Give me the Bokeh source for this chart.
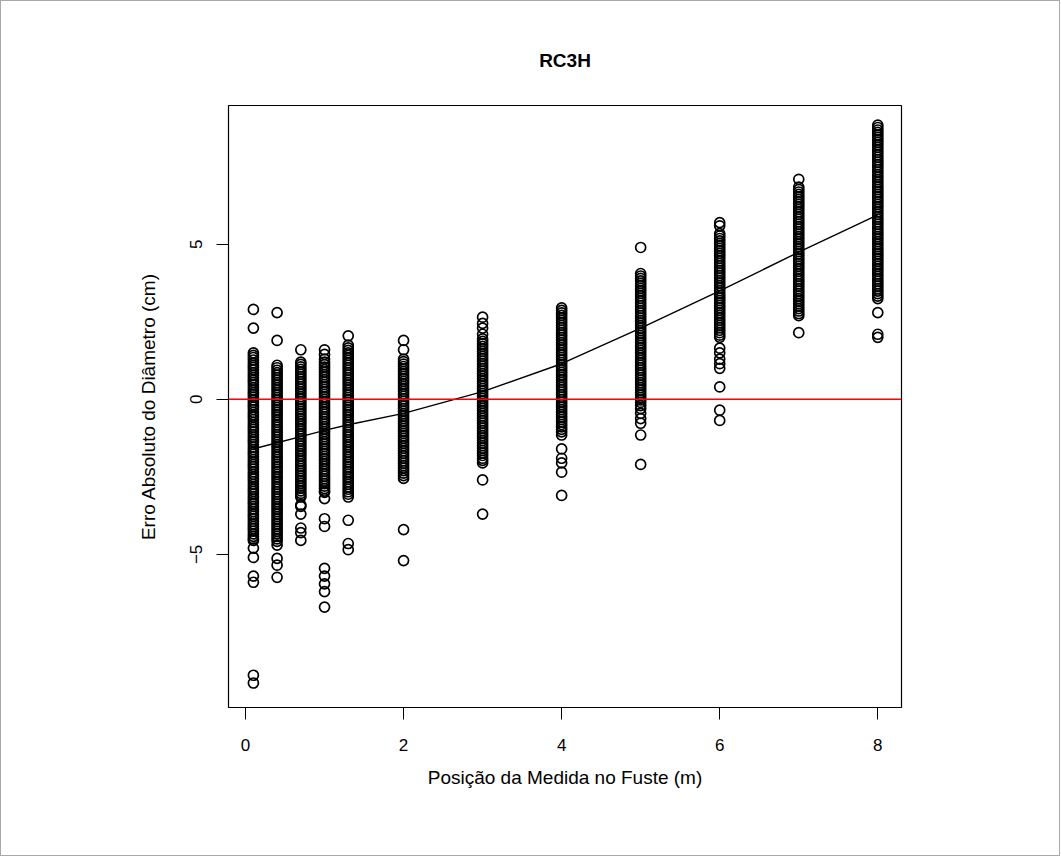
from bokeh.plotting import figure
from bokeh.models import Range1d, Span, FixedTicker, ColumnDataSource
from bokeh.embed import file_html
from bokeh.resources import INLINE

# Measurement heights along the stem (m)
posicoes = [0.1, 0.4, 0.7, 1.0, 1.3, 2.0, 3.0, 4.0, 5.0, 6.0, 7.0, 8.0]

# Absolute diameter error (cm) at each height
erro_01 = [2.9, 2.3, 1.5, 1.42, 1.35, 1.27, 1.18, 1.1, 1.03, 0.95, 0.86, 0.78, 0.7, 0.62,
           0.55, 0.47, 0.38, 0.3, 0.22, 0.15, 0.07, -0.02, -0.1, -0.18, -0.25, -0.33, -0.42,
           -0.5, -0.57, -0.65, -0.74, -0.82, -0.9, -0.97, -1.05, -1.14, -1.22, -1.3, -1.37,
           -1.45, -1.54, -1.62, -1.7, -1.77, -1.85, -1.94, -2.02, -2.1, -2.17, -2.25, -2.34,
           -2.42, -2.5, -2.57, -2.65, -2.74, -2.82, -2.9, -2.97, -3.05, -3.14, -3.22, -3.3,
           -3.37, -3.45, -3.54, -3.62, -3.7, -3.77, -3.85, -3.94, -4.02, -4.1, -4.17, -4.25,
           -4.34, -4.42, -4.5, -4.55, -4.8, -5.1, -5.7, -5.9, -8.9, -9.15]
erro_04 = [2.8, 1.9, 1.1, 1.02, 0.94, 0.86, 0.78, 0.7, 0.62, 0.54, 0.46, 0.38, 0.3, 0.22,
           0.14, 0.06, -0.02, -0.1, -0.18, -0.26, -0.34, -0.42, -0.5, -0.58, -0.66, -0.74,
           -0.82, -0.9, -0.98, -1.06, -1.14, -1.22, -1.3, -1.38, -1.46, -1.54, -1.62, -1.7,
           -1.78, -1.86, -1.94, -2.02, -2.1, -2.18, -2.26, -2.34, -2.42, -2.5, -2.58, -2.66,
           -2.74, -2.82, -2.9, -2.98, -3.06, -3.14, -3.22, -3.3, -3.38, -3.46, -3.54, -3.62,
           -3.7, -3.78, -3.86, -3.94, -4.02, -4.1, -4.18, -4.26, -4.34, -4.42, -4.5, -4.58,
           -4.7, -5.13, -5.35, -5.74]
erro_07 = [1.6, 1.2, 1.13, 1.05, 0.97, 0.89, 0.81, 0.73, 0.65, 0.57, 0.49, 0.41, 0.33, 0.25,
           0.17, 0.09, 0.01, -0.07, -0.15, -0.23, -0.31, -0.39, -0.47, -0.55, -0.63, -0.71,
           -0.79, -0.87, -0.95, -1.03, -1.11, -1.19, -1.27, -1.35, -1.43, -1.51, -1.59, -1.67,
           -1.75, -1.83, -1.91, -1.99, -2.07, -2.15, -2.23, -2.31, -2.39, -2.47, -2.55, -2.63,
           -2.71, -2.79, -2.87, -2.95, -3.03, -3.1, -3.15, -3.4, -3.45, -3.7, -4.15, -4.3,
           -4.55]
erro_10 = [1.6, 1.45, 1.3, 1.2, 1.12, 1.04, 0.96, 0.88, 0.8, 0.72, 0.64, 0.56, 0.48, 0.4,
           0.32, 0.24, 0.16, 0.08, 0.0, -0.08, -0.16, -0.24, -0.32, -0.4, -0.48, -0.56, -0.64,
           -0.72, -0.8, -0.88, -0.96, -1.04, -1.12, -1.2, -1.28, -1.36, -1.44, -1.52, -1.6,
           -1.68, -1.76, -1.84, -1.92, -2.0, -2.08, -2.16, -2.24, -2.32, -2.4, -2.48, -2.56,
           -2.64, -2.72, -2.8, -2.88, -2.96, -3.0, -3.2, -3.85, -4.1, -5.45, -5.7, -5.95,
           -6.2, -6.7]
erro_13 = [2.05, 1.75, 1.66, 1.58, 1.5, 1.42, 1.34, 1.26, 1.18, 1.1, 1.02, 0.94, 0.86, 0.78,
           0.7, 0.62, 0.54, 0.46, 0.38, 0.3, 0.22, 0.14, 0.06, -0.02, -0.1, -0.18, -0.26,
           -0.34, -0.42, -0.5, -0.58, -0.66, -0.74, -0.82, -0.9, -0.98, -1.06, -1.14, -1.22,
           -1.3, -1.38, -1.46, -1.54, -1.62, -1.7, -1.78, -1.86, -1.94, -2.02, -2.1, -2.18,
           -2.26, -2.34, -2.42, -2.5, -2.58, -2.66, -2.74, -2.82, -2.9, -2.98, -3.06, -3.15,
           -3.9, -4.65, -4.85]
erro_20 = [1.9, 1.6, 1.3, 1.22, 1.14, 1.06, 0.98, 0.9, 0.82, 0.74, 0.66, 0.58, 0.5, 0.42,
           0.34, 0.26, 0.18, 0.1, 0.02, -0.06, -0.14, -0.22, -0.3, -0.38, -0.46, -0.54, -0.62,
           -0.7, -0.78, -0.86, -0.94, -1.02, -1.1, -1.18, -1.26, -1.34, -1.42, -1.5, -1.58,
           -1.66, -1.74, -1.82, -1.9, -1.98, -2.06, -2.14, -2.22, -2.3, -2.38, -2.46, -2.55,
           -4.2, -5.2]
erro_30 = [2.65, 2.45, 2.3, 2.1, 1.95, 1.87, 1.79, 1.71, 1.63, 1.55, 1.47, 1.39, 1.31, 1.23,
           1.15, 1.07, 0.99, 0.91, 0.83, 0.75, 0.67, 0.59, 0.51, 0.43, 0.35, 0.27, 0.19, 0.11,
           0.03, -0.05, -0.13, -0.21, -0.29, -0.37, -0.45, -0.53, -0.61, -0.69, -0.77, -0.85,
           -0.93, -1.01, -1.09, -1.17, -1.25, -1.33, -1.41, -1.49, -1.57, -1.65, -1.73, -1.81,
           -1.9, -1.97, -2.05, -2.6, -3.7]
erro_40 = [2.95, 2.87, 2.79, 2.71, 2.63, 2.55, 2.47, 2.39, 2.31, 2.23, 2.15, 2.07, 1.99, 1.91,
           1.83, 1.75, 1.67, 1.59, 1.51, 1.43, 1.35, 1.27, 1.19, 1.11, 1.03, 0.95, 0.87, 0.79,
           0.71, 0.63, 0.55, 0.47, 0.39, 0.31, 0.23, 0.15, 0.07, -0.01, -0.09, -0.17, -0.25,
           -0.33, -0.41, -0.49, -0.57, -0.65, -0.73, -0.81, -0.89, -0.97, -1.05, -1.15, -1.6,
           -1.9, -2.05, -2.35, -3.1]
erro_50 = [4.9, 4.06, 3.98, 3.9, 3.82, 3.74, 3.66, 3.58, 3.5, 3.42, 3.34, 3.26, 3.18, 3.1,
           3.02, 2.94, 2.86, 2.78, 2.7, 2.62, 2.54, 2.46, 2.38, 2.3, 2.22, 2.14, 2.06, 1.98,
           1.9, 1.82, 1.74, 1.66, 1.58, 1.5, 1.42, 1.34, 1.26, 1.18, 1.1, 1.02, 0.94, 0.86,
           0.78, 0.7, 0.62, 0.54, 0.46, 0.38, 0.3, 0.22, 0.14, 0.06, -0.02, -0.1, -0.2, -0.3,
           -0.45, -0.62, -0.77, -1.15, -2.1]
erro_60 = [5.7, 5.6, 5.35, 5.27, 5.19, 5.11, 5.03, 4.95, 4.87, 4.79, 4.71, 4.63, 4.55, 4.47,
           4.39, 4.31, 4.23, 4.15, 4.07, 3.99, 3.91, 3.83, 3.75, 3.67, 3.59, 3.51, 3.43, 3.35,
           3.27, 3.19, 3.11, 3.03, 2.95, 2.87, 2.79, 2.71, 2.63, 2.55, 2.47, 2.39, 2.31, 2.23,
           2.15, 2.07, 2.0, 1.65, 1.5, 1.3, 1.15, 1.0, 0.4, -0.35, -0.68]
erro_70 = [7.1, 6.85, 6.77, 6.69, 6.61, 6.53, 6.45, 6.37, 6.29, 6.21, 6.13, 6.05, 5.97, 5.89,
           5.81, 5.73, 5.65, 5.57, 5.49, 5.41, 5.33, 5.25, 5.17, 5.09, 5.01, 4.93, 4.85, 4.77,
           4.69, 4.61, 4.53, 4.45, 4.37, 4.29, 4.21, 4.13, 4.05, 3.97, 3.89, 3.81, 3.73, 3.65,
           3.57, 3.49, 3.41, 3.33, 3.25, 3.17, 3.09, 3.01, 2.93, 2.85, 2.77, 2.7, 2.15]
erro_80 = [8.85, 8.77, 8.69, 8.61, 8.53, 8.45, 8.37, 8.29, 8.21, 8.13, 8.05, 7.97, 7.89, 7.81,
           7.73, 7.65, 7.57, 7.49, 7.41, 7.33, 7.25, 7.17, 7.09, 7.01, 6.93, 6.85, 6.77, 6.69,
           6.61, 6.53, 6.45, 6.37, 6.29, 6.21, 6.13, 6.05, 5.97, 5.89, 5.81, 5.73, 5.65, 5.57,
           5.49, 5.41, 5.33, 5.25, 5.17, 5.09, 5.01, 4.93, 4.85, 4.77, 4.69, 4.61, 4.53, 4.45,
           4.37, 4.29, 4.21, 4.13, 4.05, 3.97, 3.89, 3.81, 3.73, 3.65, 3.57, 3.49, 3.41, 3.33,
           3.25, 2.8, 2.1, 2.0]

# Smoothed (lowess) trend through the errors
lowess_x = [0.1, 0.4, 0.7, 1.0, 1.3, 2.0, 3.0, 4.0, 5.0, 6.0, 7.0, 8.0]
lowess_y = [-1.6, -1.4, -1.2, -1.0, -0.82, -0.45, 0.25, 1.15, 2.3, 3.5, 4.75, 5.95]

x_ticks = [0, 2, 4, 6, 8]
y_ticks = [-5, 0, 5]

grupos = [erro_01, erro_04, erro_07, erro_10, erro_13, erro_20,
          erro_30, erro_40, erro_50, erro_60, erro_70, erro_80]
xs, ys = [], []
for pos, vals in zip(posicoes, grupos):
    xs.extend([pos] * len(vals))
    ys.extend(vals)
pontos = ColumnDataSource(dict(x=xs, y=ys))

FONT = "Liberation Sans"

p = figure(
    width=1060, height=856,
    x_range=Range1d(-0.215, 8.30), y_range=Range1d(-9.94, 9.48),
    output_backend="svg", toolbar_location=None,
    min_border_left=227, min_border_right=160,
    min_border_top=104, min_border_bottom=150,
    title="RC3H",
    styles={"border": "1px solid #a8a8a8"},
)
p.grid.visible = False
p.outline_line_color = "black"
p.outline_line_width = 1.2
p.background_fill_color = "white"
p.border_fill_color = "white"

p.title.align = "center"
p.title.text_font = FONT
p.title.text_font_size = "19px"
p.title.text_font_style = "bold"
p.title.text_color = "black"
p.title.standoff = 70

for ax in (p.xaxis[0], p.yaxis[0]):
    ax.axis_line_color = None
    ax.major_tick_in = 0
    ax.major_tick_out = 12
    ax.major_tick_line_color = "black"
    ax.minor_tick_line_color = None
    ax.major_label_text_font = FONT
    ax.major_label_text_font_size = "17px"
    ax.major_label_text_color = "black"
    ax.axis_label_text_font = FONT
    ax.axis_label_text_font_size = "19px"
    ax.axis_label_text_font_style = "normal"
    ax.axis_label_text_color = "black"

p.xaxis.ticker = FixedTicker(ticks=x_ticks)
p.yaxis.ticker = FixedTicker(ticks=y_ticks)
p.yaxis.major_label_overrides = {t: (str(t).replace("-", "\u2212")) for t in y_ticks}
p.yaxis.major_label_orientation = "vertical"
p.xaxis.major_label_standoff = 19
p.yaxis.major_label_standoff = 14
p.xaxis.axis_label = "Posição da Medida no Fuste (m)"
p.yaxis.axis_label = "Erro Absoluto do Diâmetro (cm)"
p.xaxis.axis_label_standoff = 13
p.yaxis.axis_label_standoff = 29

p.scatter("x", "y", source=pontos, marker="circle", size=10,
          fill_color=None, line_color="black", line_width=1.7)
p.line(lowess_x, lowess_y, line_color="black", line_width=1.4)
p.add_layout(Span(location=0, dimension="width", line_color="#ff0000", line_width=1.5))

open("out.html", "w").write(file_html(p, INLINE))
